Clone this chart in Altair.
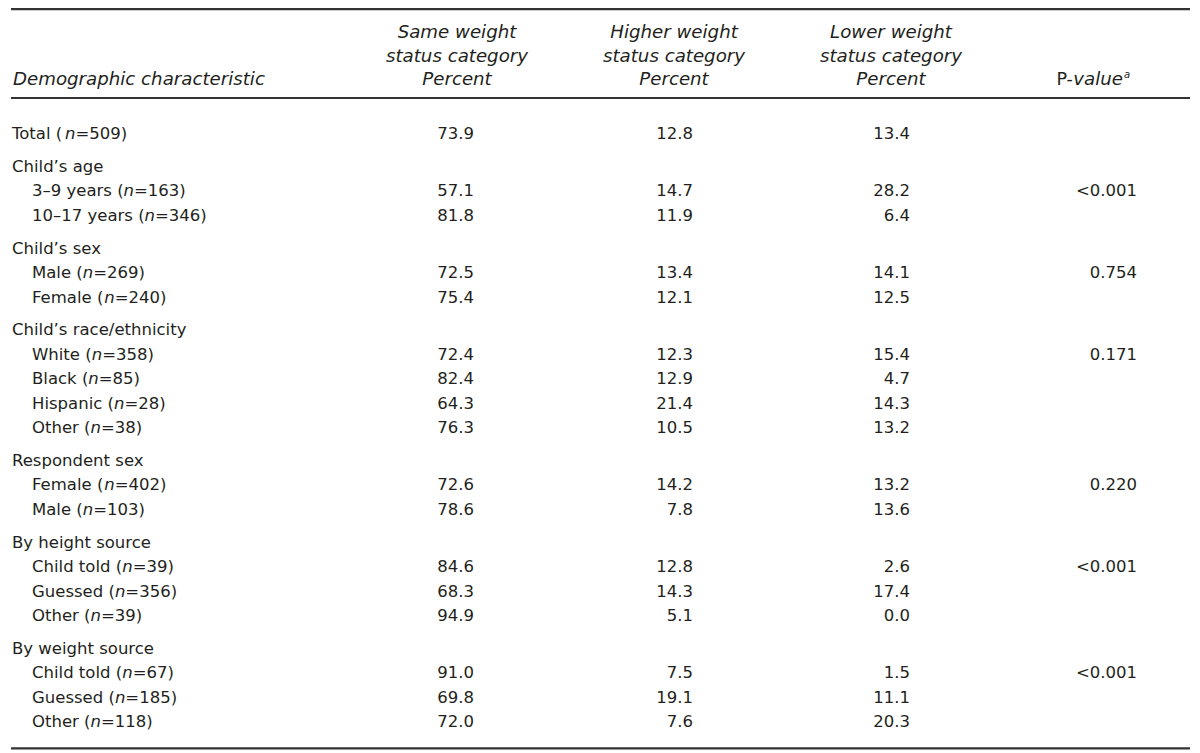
import altair as alt
import pandas as pd

# ---------------- data ----------------
labels = [
    "Total (n=509)",
    "Child’s age", "3–9 years (n=163)", "10–17 years (n=346)",
    "Child’s sex", "Male (n=269)", "Female (n=240)",
    "Child’s race/ethnicity", "White (n=358)", "Black (n=85)", "Hispanic (n=28)", "Other (n=38)",
    "Respondent sex", "Female (n=402)", "Male (n=103)",
    "By height source", "Child told (n=39)", "Guessed (n=356)", "Other (n=39)",
    "By weight source", "Child told (n=67)", "Guessed (n=185)", "Other (n=118)",
]
row_kind = ["total",
            "group", "item", "item",
            "group", "item", "item",
            "group", "item", "item", "item", "item",
            "group", "item", "item",
            "group", "item", "item", "item",
            "group", "item", "item", "item"]
same = [73.9, None, 57.1, 81.8, None, 72.5, 75.4, None, 72.4, 82.4, 64.3, 76.3,
        None, 72.6, 78.6, None, 84.6, 68.3, 94.9, None, 91.0, 69.8, 72.0]
higher = [12.8, None, 14.7, 11.9, None, 13.4, 12.1, None, 12.3, 12.9, 21.4, 10.5,
          None, 14.2, 7.8, None, 12.8, 14.3, 5.1, None, 7.5, 19.1, 7.6]
lower = [13.4, None, 28.2, 6.4, None, 14.1, 12.5, None, 15.4, 4.7, 14.3, 13.2,
         None, 13.2, 13.6, None, 2.6, 17.4, 0.0, None, 1.5, 11.1, 20.3]
pvalues = ["", "", "<0.001", "", "", "0.754", "", "", "0.171", "", "", "",
           "", "0.220", "", "", "<0.001", "", "", "", "<0.001", "", ""]
col_headers = [
    ["Same weight", "status category", "Percent"],
    ["Higher weight", "status category", "Percent"],
    ["Lower weight", "status category", "Percent"],
]
stub_header = "Demographic characteristic"

# ---------------- layout ----------------
W, H = 1184, 742          # drawing area (page minus 8px margin)
OFF = 8                   # page margin
FS = 16.5
HFS = 18.2                # italic header size
FONT = "DejaVu Sans"
COLOR = "#231f20"
ROW_TOP = 134
ROW_STEP = 24.45
GROUP_GAP = 8.4
X_GROUP, X_ITEM = 12, 32
COL_RIGHT = [474, 693, 910]
COL_CENTER = [457, 674, 891]
P_RIGHT = 1137
HEAD_Y = [33, 56.5, 80]

# DejaVu Sans advance widths (per 1000 em)
ADV = {" ": 318, "(": 390, ")": 390, "–": 500, "’": 318, "/": 337, "=": 838, "-": 361,
       "A": 684, "B": 686, "C": 698, "F": 575, "G": 775, "H": 752, "M": 863, "O": 787,
       "P": 603, "R": 695, "T": 611, "W": 989,
       "a": 613, "b": 635, "c": 550, "d": 635, "e": 615, "g": 635, "h": 634, "i": 278,
       "k": 579, "l": 278, "m": 974, "n": 634, "o": 612, "p": 635, "r": 411, "s": 521,
       "t": 392, "u": 634, "v": 592, "w": 818, "x": 592, "y": 592}
for d in "0123456789":
    ADV[d] = 636


def tw(s, fs=FS):
    return sum(ADV.get(c, 600) for c in s) * fs / 1000.0


# rows -> y positions
ys = []
gaps = 0
for i, k in enumerate(row_kind):
    if k == "group":
        gaps += 1
    ys.append(ROW_TOP + i * ROW_STEP + gaps * GROUP_GAP)

# label pieces (italic n)
up_pieces, it_pieces = [], []
for lab, k, y in zip(labels, row_kind, ys):
    x0 = X_ITEM if k == "item" else X_GROUP
    if "(n=" in lab:
        pre, rest = lab.split("(n", 1)
        pre = pre + "("
        x_n = x0 + tw(pre)
        x_s = x_n + tw("n")
        up_pieces.append(dict(t=pre, x=x0 - OFF, y=y - OFF))
        it_pieces.append(dict(t="n", x=x_n - OFF, y=y - OFF))
        up_pieces.append(dict(t=rest, x=x_s - OFF, y=y - OFF))
    else:
        up_pieces.append(dict(t=lab, x=x0 - OFF, y=y - OFF))
up_df = pd.DataFrame(up_pieces)
it_df = pd.DataFrame(it_pieces)

vals = []
for j, series in enumerate([same, higher, lower]):
    for v, y in zip(series, ys):
        if v is not None:
            vals.append(dict(t=f"{v:.1f}", x=COL_RIGHT[j] - OFF, y=y - OFF))
for p, y in zip(pvalues, ys):
    if p:
        vals.append(dict(t=p, x=P_RIGHT - OFF, y=y - OFF))
val_df = pd.DataFrame(vals)

heads = []
for j, lines in enumerate(col_headers):
    for ln, hy in zip(lines, HEAD_Y):
        heads.append(dict(t=ln, x=COL_CENTER[j] - OFF, y=hy - OFF))
head_df = pd.DataFrame(heads)

stub_df = pd.DataFrame([dict(t=stub_header, x=X_GROUP + 1 - OFF, y=HEAD_Y[2] - OFF)])

# P-value header: "P-" upright, "value" italic, superscript a
p_end = 1123
PFS = 17.5
pv_up = pd.DataFrame([dict(t="P-", x=p_end - tw("value", HFS) - tw("P-", PFS) - OFF, y=HEAD_Y[2] - OFF)])
pv_it = pd.DataFrame([dict(t="value", x=p_end - tw("value", HFS) - OFF, y=HEAD_Y[2] - OFF)])
pv_sup = pd.DataFrame([dict(t="a", x=p_end + 1 - OFF, y=HEAD_Y[2] - 5 - OFF)])

# table rules: top (kept just inside the drawing area), header, bottom
rules_df = pd.DataFrame([
    dict(y=1.2, x=11 - OFF, x2=1190 - OFF, sw=2.2),
    dict(y=98 - OFF, x=11 - OFF, x2=1190 - OFF, sw=1.8),
    dict(y=ys[-1] + 26 - OFF, x=11 - OFF, x2=1190 - OFF, sw=2.2),
])

xs = alt.Scale(domain=[0, W], nice=False, zero=False)
ysc = alt.Scale(domain=[0, H], nice=False, zero=False, reverse=True)


def X(f="x"):
    return alt.X(f"{f}:Q", scale=xs, axis=None)


def Y(f="y"):
    return alt.Y(f"{f}:Q", scale=ysc, axis=None)


def txt(df, align="left", style="normal", size=FS):
    return alt.Chart(df).mark_text(
        align=align, baseline="middle", font=FONT, fontSize=size,
        fontStyle=style, color=COLOR
    ).encode(x=X(), y=Y(), text="t:N")


rules_layer = alt.Chart(rules_df).mark_rule(color="#333333").encode(
    x=X(), x2="x2:Q", y=Y(),
    strokeWidth=alt.StrokeWidth("sw:Q", scale=None))

chart = alt.layer(
    rules_layer,
    txt(up_df), txt(it_df, style="italic"),
    txt(val_df, align="right"),
    txt(head_df, align="center", style="italic", size=HFS),
    txt(stub_df, style="italic", size=HFS),
    txt(pv_up, size=PFS), txt(pv_it, style="italic", size=HFS),
    txt(pv_sup, style="italic", size=10),
).properties(
    width=W, height=H, padding=0,
    autosize=alt.AutoSizeParams(type="fit", contains="padding"),
).configure_view(stroke=None)

chart.save("out.html", embed_options={"renderer": "svg", "actions": False})
